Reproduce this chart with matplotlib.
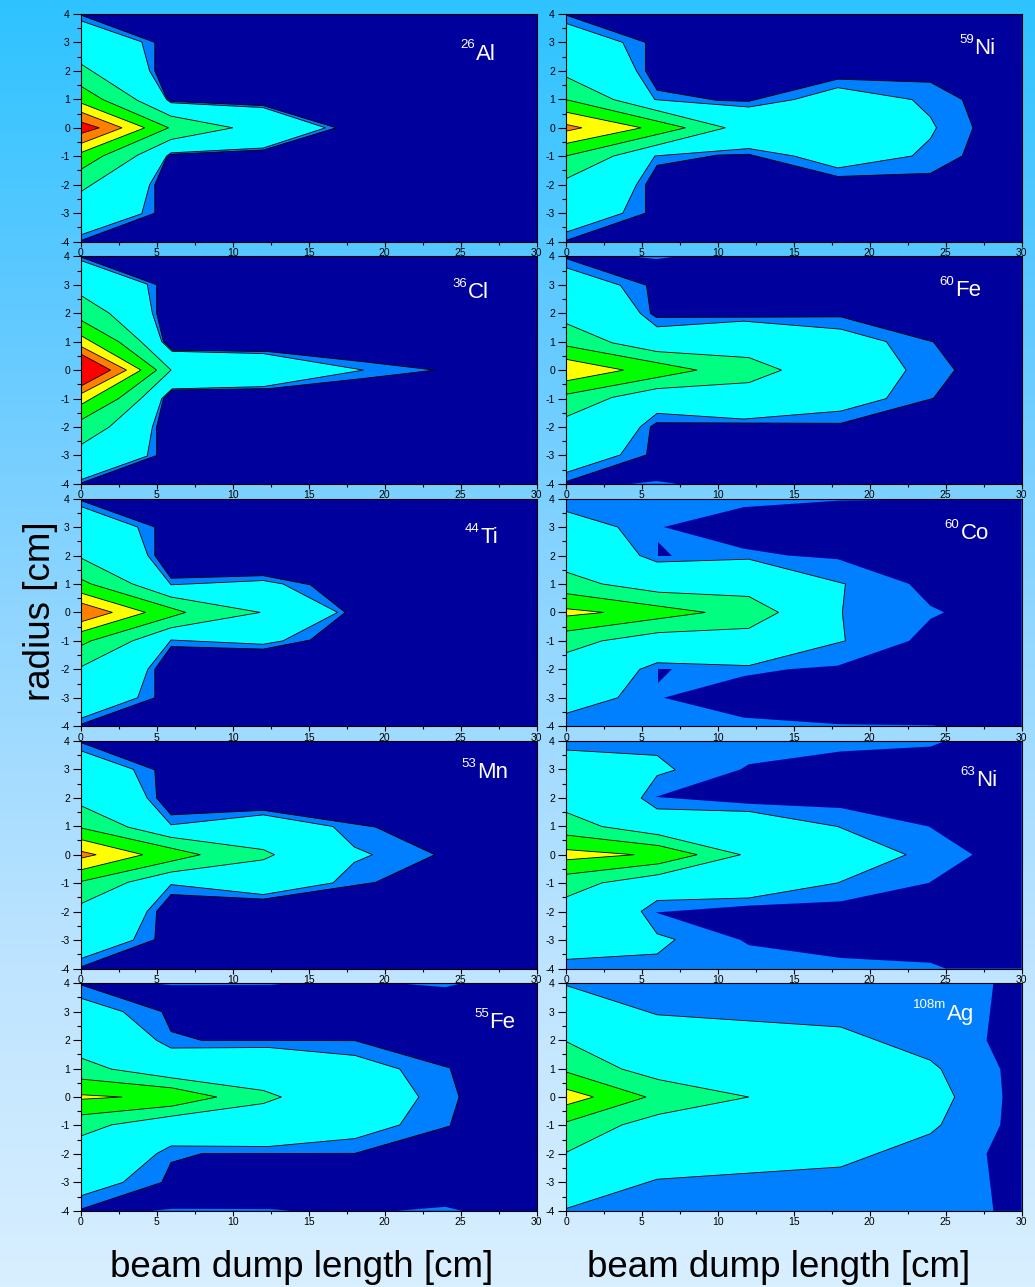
import numpy as np
import matplotlib
matplotlib.use("Agg")
import matplotlib.pyplot as plt
from matplotlib.ticker import MultipleLocator

plt.rcParams["font.family"] = ["Liberation Sans", "DejaVu Sans"]
plt.rcParams["axes.unicode_minus"] = False

# contour level colours, lowest to highest
level_colors = {
    "navy": "#00009c",
    "blue": "#0080ff",
    "cyan": "#00ffff",
    "spring": "#00ff80",
    "green": "#00ff00",
    "yellow": "#ffff00",
    "orange": "#ff8000",
    "red": "#ff0000",
}

# Each layer: (level, upper half boundary as (x, r) points, outlined).
# A boundary that ends on r=0 is mirrored into one closed shape,
# any other one is drawn at the top and again mirrored at the bottom.
full = [(0, 0), (0, 4), (30, 4), (30, 0)]

al26 = [
    ("blue", [(0, 3.96), (4.86, 3.0), (4.86, 2.0), (5.7, 0.96), (5.9, 0.93), (12.0, 0.78), (16.8, 0)], True),
    ("cyan", [(0, 3.76), (4.0, 3.02), (4.52, 2.0), (5.64, 0.99), (5.93, 0.88), (12.0, 0.71), (16.1, 0)], True),
    ("spring", [(0, 2.24), (3.73, 0.96), (5.93, 0.41), (10.0, 0)], True),
    ("green", [(0, 1.46), (1.45, 0.99), (5.77, 0)], True),
    ("yellow", [(0, 0.87), (4.2, 0)], True),
    ("orange", [(0, 0.55), (2.7, 0)], True),
    ("red", [(0, 0.2), (1.2, 0)], True),
]

ni59 = [
    ("blue", [(0, 3.96), (5.23, 3.0), (5.23, 2.0), (6.0, 1.32), (9.96, 0.96), (12.04, 0.93),
              (17.9, 1.71), (24.0, 1.6), (26.1, 0.99), (26.8, 0)], True),
    ("cyan", [(0, 3.67), (3.74, 3.0), (4.64, 2.0), (5.85, 0.99), (12.04, 0.73), (15.0, 0.99),
              (17.9, 1.41), (22.8, 0.99), (24.0, 0.38), (24.4, 0)], True),
    ("spring", [(0, 1.79), (3.14, 0.99), (10.5, 0)], True),
    ("green", [(0, 0.99), (7.87, 0)], True),
    ("yellow", [(0, 0.55), (4.95, 0)], True),
    ("orange", [(0, 0.12), (1.05, 0)], True),
]

cl36 = [
    ("blue", [(0, 3.97), (4.98, 3.0), (4.98, 2.0), (5.43, 1.0), (6.0, 0.7), (12.36, 0.65), (18.5, 0.3), (23.3, 0)], True),
    ("cyan", [(0, 3.85), (4.36, 3.02), (4.7, 2.0), (5.32, 1.0), (6.0, 0.66), (12.0, 0.58), (18.6, 0)], True),
    ("spring", [(0, 2.62), (1.86, 2.0), (3.95, 1.0), (5.93, 0)], True),
    ("green", [(0, 1.75), (2.48, 1.0), (4.98, 0)], True),
    ("yellow", [(0, 1.21), (3.95, 0)], True),
    ("orange", [(0, 0.83), (3.0, 0)], True),
    ("red", [(0, 0.56), (1.95, 0)], True),
]

fe60 = [
    ("blue", [(0, 3.92), (5.3, 2.98), (5.56, 1.99), (5.96, 1.85), (18.1, 1.87), (24.2, 0.99), (25.6, 0)], True),
    ("blue", [(4.24, 4.0), (5.96, 3.9), (7.32, 4.0)], False),
    ("cyan", [(0, 3.6), (3.58, 2.98), (4.9, 1.99), (6.0, 1.52), (11.7, 1.72), (18.1, 1.44), (21.1, 1.0), (22.4, 0)], True),
    ("spring", [(0, 1.64), (3.03, 0.96), (6.0, 0.65), (12.04, 0.44), (14.2, 0)], True),
    ("green", [(0, 0.85), (8.64, 0)], True),
    ("yellow", [(0, 0.38), (3.8, 0)], True),
]

ti44 = [
    ("blue", [(0, 3.93), (4.86, 3.0), (4.86, 2.0), (5.93, 1.2), (12.0, 1.29), (15.1, 0.97), (17.4, 0)], True),
    ("cyan", [(0, 3.72), (3.73, 3.0), (4.4, 2.0), (5.93, 0.97), (12.0, 1.12), (13.3, 1.0), (16.9, 0)], True),
    ("spring", [(0, 1.91), (3.39, 1.0), (5.93, 0.54), (11.8, 0)], True),
    ("green", [(0, 1.17), (0.66, 1.0), (6.9, 0)], True),
    ("yellow", [(0, 0.68), (4.25, 0)], True),
    ("orange", [(0, 0.33), (2.07, 0)], True),
]

co60 = [
    ("blue", full, False),
    ("navy", [(24.9, 0), (24.0, 0.23), (22.6, 1.0), (17.9, 1.87), (14.6, 2.0), (11.7, 2.24), (6.44, 3.0),
              (11.7, 3.7), (18.0, 3.93), (24.2, 3.97), (24.5, 4.0), (30, 4), (30, 0)], False),
    ("navy", [(6.07, 2.49), (6.07, 2.0), (6.99, 2.0)], False),
    ("cyan", [(0, 3.55), (3.41, 3.0), (4.86, 2.0), (6.0, 1.77), (12.04, 1.87), (18.4, 1.0), (18.2, 0)], True),
    ("spring", [(0, 1.42), (2.37, 1.0), (6.1, 0.71), (12.04, 0.56), (14.0, 0)], True),
    ("green", [(0, 0.66), (9.19, 0)], True),
    ("yellow", [(0, 0.13), (2.48, 0)], True),
]

mn53 = [
    ("blue", [(0, 3.94), (4.86, 2.98), (4.98, 1.99), (5.93, 1.4), (12.0, 1.56), (19.4, 0.97), (23.3, 0)], True),
    ("cyan", [(0, 3.65), (3.45, 3.0), (4.36, 1.99), (5.93, 1.05), (12.0, 1.4), (16.6, 0.99), (18.0, 0.27), (19.2, 0)], True),
    ("spring", [(0, 1.72), (3.09, 0.97), (5.93, 0.61), (12.0, 0.18), (12.75, 0)], True),
    ("green", [(0, 0.94), (7.86, 0)], True),
    ("yellow", [(0, 0.53), (4.07, 0)], True),
    ("orange", [(0, 0.12), (1.0, 0)], True),
]

ni63 = [
    ("blue", full, False),
    ("navy", [(26.77, 0), (23.9, 0.99), (18.1, 1.64), (12.04, 1.79), (5.9, 2.03), (11.5, 3.0), (12.04, 3.18),
              (18.1, 3.63), (24.0, 3.8), (25.0, 4.0), (30, 4), (30, 0)], False),
    ("cyan", [(0, 3.68), (6.0, 3.49), (7.2, 2.98), (6.0, 2.78), (4.95, 1.99), (6.0, 1.61), (12.04, 1.52),
              (17.9, 0.99), (22.4, 0)], True),
    ("spring", [(0, 1.49), (2.37, 0.99), (6.1, 0.7), (11.5, 0)], True),
    ("green", [(0, 0.69), (6.1, 0.32), (8.64, 0)], True),
    ("yellow", [(0, 0.18), (4.5, 0)], True),
]

fe55 = [
    ("blue", [(0, 3.94), (5.32, 3.0), (5.93, 2.3), (7.93, 1.99), (18.05, 1.98), (24.3, 1.02), (24.9, 0)], True),
    ("blue", [(4.6, 4.0), (6.0, 3.93), (12.5, 3.94), (13.8, 4.0)], False),
    ("blue", [(20.8, 4.0), (24.0, 3.86), (25.1, 4.0)], False),
    ("cyan", [(0, 3.47), (2.77, 3.0), (4.98, 1.99), (5.93, 1.72), (12.36, 1.74), (18.05, 1.46), (21.0, 0.98), (22.25, 0)], True),
    ("spring", [(0, 1.37), (2.0, 0.98), (6.0, 0.67), (12.0, 0.23), (13.2, 0)], True),
    ("green", [(0, 0.63), (6.0, 0.32), (8.95, 0)], True),
    ("yellow", [(0, 0.08), (2.7, 0)], True),
]

ag108m = [
    ("blue", full, False),
    ("navy", [(28.75, 0), (28.6, 0.98), (27.7, 1.99), (28.15, 4.0), (30, 4), (30, 0)], False),
    ("cyan", [(0, 3.92), (6.0, 2.89), (18.1, 2.46), (24.0, 1.29), (24.7, 0.98), (25.6, 0)], True),
    ("spring", [(0, 1.95), (3.69, 0.98), (6.1, 0.61), (12.04, 0)], True),
    ("green", [(0, 0.88), (5.27, 0)], True),
    ("yellow", [(0, 0.28), (1.82, 0)], True),
]

# rows of (left, right) panels
panels = [(al26, ni59), (cl36, fe60), (ti44, co60), (mn53, ni63), (fe55, ag108m)]
# isotope labels: (mass number, element, left edge of element, baseline) in axes fractions
labels = [
    (("26", "Al", 0.868, 0.800), ("59", "Ni", 0.897, 0.824)),
    (("36", "Cl", 0.850, 0.817), ("60", "Fe", 0.855, 0.824)),
    (("44", "Ti", 0.876, 0.805), ("60", "Co", 0.866, 0.823)),
    (("53", "Mn", 0.870, 0.836), ("63", "Ni", 0.901, 0.800)),
    (("55", "Fe", 0.897, 0.802), ("108m", "Ag", 0.837, 0.839)),
]

# background gradient colours, top to bottom
bg_colors = [(46, 195, 255), (98, 202, 255), (148, 215, 255), (190, 228, 255), (216, 239, 255)]


def shapes(points):
    xs = [p[0] for p in points]
    ys = [p[1] for p in points]
    if ys[-1] == 0:
        return [(xs + xs[::-1], ys + [-y for y in ys[::-1]])]
    return [(xs, ys), (xs, [-y for y in ys])]


W, H = 1035, 1287
fig = plt.figure(figsize=(W / 100, H / 100), dpi=100)

# gradient background
bg = fig.add_axes([0, 0, 1, 1], zorder=-5)
stops = np.array(bg_colors) / 255.0
t = np.linspace(0, 1, 400)
pos = np.linspace(0, 1, len(stops))
grad = np.stack([np.interp(t, pos, stops[:, c]) for c in range(3)], axis=-1)[:, None, :]
bg.imshow(grad, aspect="auto", extent=[0, 1, 0, 1], origin="upper")
bg.axis("off")

col_left = [81, 566]
col_width = 455.5
row_top0, row_step, row_h = 14, 242.3, 227.6

for r, row in enumerate(panels):
    for c, layers in enumerate(row):
        top = row_top0 + r * row_step
        ax = fig.add_axes([col_left[c] / W, 1 - (top + row_h) / H, col_width / W, row_h / H])
        ax.set_facecolor(level_colors["navy"])
        for level, pts, outlined in layers:
            for xs, ys in shapes(pts):
                ax.fill(xs, ys, facecolor=level_colors[level],
                        edgecolor="black" if outlined else "none", linewidth=0.6)
        ax.set_xlim(0, 30)
        ax.set_ylim(-4, 4)
        ax.set_xticks(range(0, 31, 5))
        ax.set_yticks(range(-4, 5))
        ax.xaxis.set_minor_locator(MultipleLocator(2.5))
        ax.yaxis.set_minor_locator(MultipleLocator(0.5))
        ax.tick_params(axis="y", which="major", direction="out", length=6, width=0.8, labelsize=7.5, pad=2)
        ax.tick_params(axis="y", which="minor", direction="out", length=3, width=0.8)
        ax.tick_params(axis="x", which="major", direction="out", length=3.5, width=0.8, labelsize=7.5, pad=1.2)
        ax.tick_params(axis="x", which="minor", direction="out", length=2.5, width=0.8)
        for s in ax.spines.values():
            s.set_linewidth(0.8)

        mass, elem, xl, yb = labels[r][c]
        ax.text(xl, yb, elem, transform=ax.transAxes, color="white", fontsize=16,
                ha="left", va="baseline")
        ax.text(xl - 0.002, yb + 0.05, mass, transform=ax.transAxes, color="white", fontsize=9.5,
                ha="right", va="baseline")

fig.text(0.0396, 0.525, "radius [cm]", rotation=90, fontsize=26.5, ha="center", va="center")
fig.text(0.291, 0.0078, "beam dump length [cm]", fontsize=26.5, ha="center", va="baseline")
fig.text(0.752, 0.0078, "beam dump length [cm]", fontsize=26.5, ha="center", va="baseline")

fig.savefig("out.png", dpi=100)
